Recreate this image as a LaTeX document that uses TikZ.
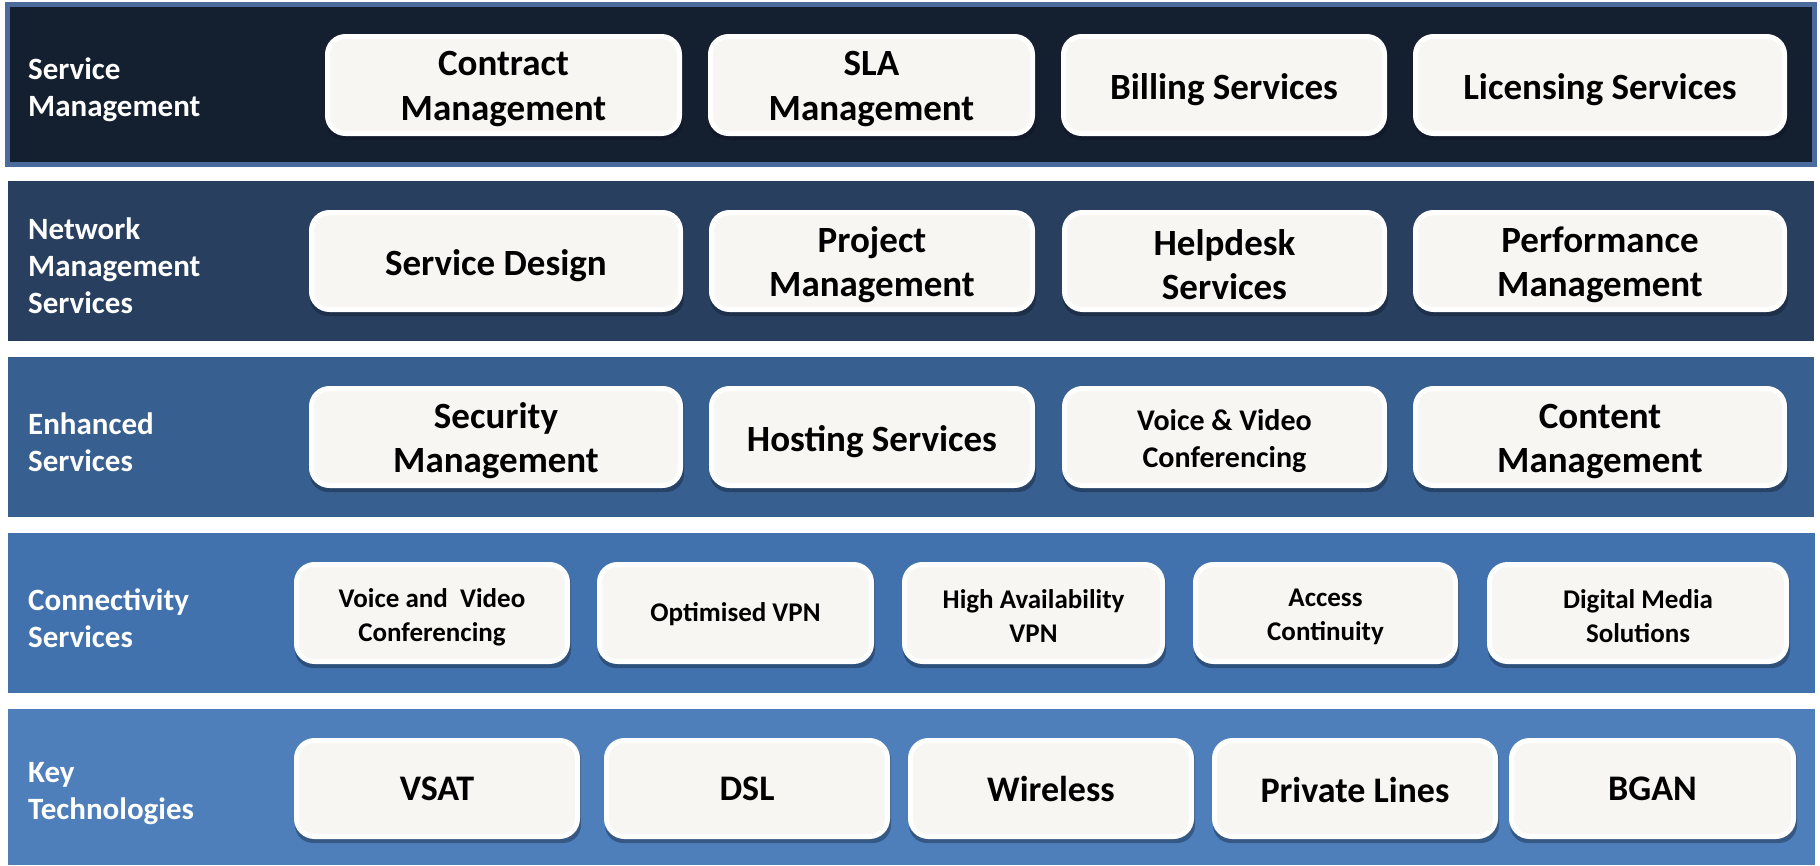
\documentclass[tikz,border=0pt]{standalone}
\usepackage{fontspec}
\setmainfont{Carlito}
\definecolor{bandA}{HTML}{141F30}
\definecolor{bandAedge}{HTML}{4A6B9B}
\definecolor{bandB}{HTML}{283F5F}
\definecolor{bandC}{HTML}{375F8F}
\definecolor{bandD}{HTML}{4272AE}
\definecolor{bandE}{HTML}{4E7FBB}
\definecolor{cellfill}{HTML}{F7F6F2}
\definecolor{shadowcol}{HTML}{0A1220}
\tikzset{
  cellbox/.style={rounded corners=18pt, fill=cellfill, draw=white, line width=5pt,
    inner sep=0pt},
  celltext/.style={text=black, align=center, inner sep=0pt},
  lbl/.style={anchor=west, text=white, align=left, inner sep=0pt,
    font=\fontsize{31}{37}\selectfont\bfseries}
}
\newcommand\cellnode[9]{%
  \fill[shadowcol, opacity=0.35, rounded corners=18pt] (#2+1,-#3-4) rectangle (#4+1,-#5-4);
  \node[cellbox, minimum width={#4-#2-5}, minimum height={#5-#3-5}] (#1) at ({(#2+#4)/2},{-(#3+#5)/2}) {};
  \node[celltext, font=\fontsize{#6}{#7}\selectfont\bfseries, yshift=-#8pt] (#1t) at (#1.center) {#9};
}
\begin{document}
\begin{tikzpicture}[x=1pt,y=1pt]
\useasboundingbox (0,0) rectangle (1820,-865);
\fill[white] (0,0) rectangle (1820,-865);
% bands
\filldraw[fill=bandA, draw=bandAedge, line width=5pt] (7.5,-4.5) rectangle (1814.5,-164.5);
\fill[bandB] (8,-181) rectangle (1814,-341);
\fill[bandC] (8,-357) rectangle (1814,-517);
\fill[bandD] (8,-533) rectangle (1815,-693);
\fill[bandE] (8,-709) rectangle (1815,-865);
% labels
\node[lbl] (l1) at (28,-90) {Service\\Management};
\node[lbl] (l2) at (28,-266) {Network\\Management\\Services};
\node[lbl] (l3) at (28,-442) {Enhanced\\Services};
\node[lbl] (l4) at (28,-618) {Connectivity\\Services};
\node[lbl] (l5) at (28,-794) {Key\\Technologies};
% row 1
\cellnode{c11}{325}{34}{682}{136}{37}{44}{4}{Contract\\Management}
\cellnode{c12}{708}{34}{1035}{136}{37}{44}{4}{SLA\\Management}
\cellnode{c13}{1061}{34}{1387}{136}{37}{44}{5}{Billing Services}
\cellnode{c14}{1413}{34}{1787}{136}{37}{44}{5}{Licensing Services}
% row 2
\cellnode{c21}{309}{210}{683}{312}{37}{44}{5}{Service Design}
\cellnode{c22}{709}{210}{1035}{312}{37}{44}{4}{Project\\Management}
\cellnode{c23}{1062}{210}{1387}{312}{37}{44}{4}{Helpdesk\\Services}
\cellnode{c24}{1413}{210}{1787}{312}{37}{44}{4}{Performance\\Management}
% row 3
\cellnode{c31}{309}{386}{683}{488}{37}{44}{4}{Security\\Management}
\cellnode{c32}{709}{386}{1035}{488}{37}{44}{5}{Hosting Services}
\cellnode{c33}{1062}{386}{1387}{488}{30}{37}{4}{Voice \& Video\\Conferencing}
\cellnode{c34}{1413}{386}{1787}{488}{37}{44}{4}{Content\\Management}
% row 4
\cellnode{c41}{294}{562}{570}{664}{27}{34}{4}{Voice and~ Video\\Conferencing}
\cellnode{c42}{597}{562}{874}{664}{27}{34}{1}{Optimised VPN}
\cellnode{c43}{902}{562}{1165}{664}{27}{34}{3}{High Availability\\VPN}
\cellnode{c44}{1193}{562}{1458}{664}{27}{34}{4}{Access\\Continuity}
\cellnode{c45}{1487}{562}{1789}{664}{27}{34}{3}{Digital Media\\Solutions}
% row 5
\cellnode{c51}{294}{738}{580}{839}{36}{43}{0}{VSAT}
\cellnode{c52}{604}{738}{890}{839}{36}{43}{0}{DSL}
\cellnode{c53}{908}{738}{1194}{839}{36}{43}{0}{Wireless}
\cellnode{c54}{1212}{738}{1498}{839}{36}{43}{1}{Private Lines}
\cellnode{c55}{1509}{738}{1796}{839}{36}{43}{0}{BGAN}
\end{tikzpicture}
\end{document}
